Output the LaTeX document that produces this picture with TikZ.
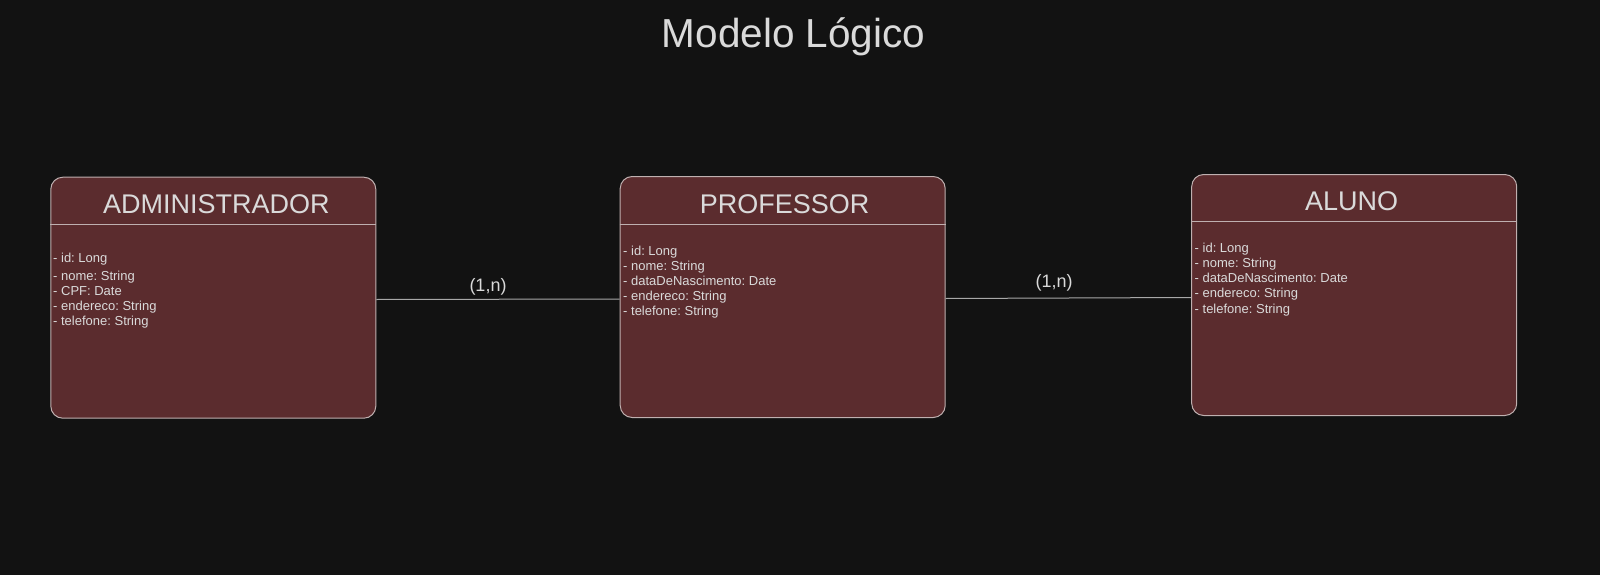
\documentclass[tikz,border=0pt]{standalone}
\usepackage{fontspec}
\setmainfont{Liberation Sans}
\frenchspacing
\definecolor{bg}{HTML}{121212}
\definecolor{boxfill}{HTML}{5B2C2E}
\definecolor{boxline}{HTML}{BFB0B0}
\definecolor{txt}{HTML}{DADADA}
\definecolor{conn}{HTML}{A8A8A8}
\begin{document}
\begin{tikzpicture}[x=1pt,y=-1pt,
  entity/.style={draw=boxline, line width=1pt, fill=boxfill, rounded corners=12pt, minimum width=325pt, minimum height=241pt, inner sep=0pt},
  enttitle/.style={text=txt, font=\fontsize{27}{31}\selectfont, anchor=base, inner sep=0pt},
  attr/.style={text=txt, font=\fontsize{13}{15}\selectfont, anchor=base west, inner sep=0pt},
  card/.style={text=txt, font=\fontsize{18}{21}\selectfont, anchor=base, inner sep=0pt},
  connline/.style={draw=conn, line width=1pt},
  hdr/.style={draw=boxline, line width=1pt}]
\fill[bg] (0,0) rectangle (1600,575);
\useasboundingbox (0,0) rectangle (1600,575);

\node[text=txt, font=\fontsize{40.5}{46}\selectfont, anchor=base, inner sep=0pt] (title) at (793.5,47.7) {Modelo Lógico};

% ADMINISTRADOR
\node[entity] (adm) at (213.3,297.7) {};
\draw[hdr] ([yshift=-47.3pt]adm.north west) -- ([yshift=-47.3pt]adm.north east);
\node[enttitle] (admt) at (216.3,213.3) {ADMINISTRADOR};
\node[attr] (adm1) at (53,262.7) {- id: Long};
\node[attr] (adm2) at (53,280) {- nome: String};
\node[attr] (adm3) at (53,295.2) {- CPF: Date};
\node[attr] (adm4) at (53,310.5) {- endereco: String};
\node[attr] (adm5) at (53,325.7) {- telefone: String};

% PROFESSOR
\node[entity] (prof) at (782.7,297) {};
\draw[hdr] ([yshift=-48pt]prof.north west) -- ([yshift=-48pt]prof.north east);
\node[enttitle] (proft) at (784.7,213) {PROFESSOR};
\node[attr] (prof1) at (623,255) {- id: Long};
\node[attr] (prof2) at (623,270.2) {- nome: String};
\node[attr] (prof3) at (623,285.4) {- dataDeNascimento: Date};
\node[attr] (prof4) at (623,300.6) {- endereco: String};
\node[attr] (prof5) at (623,315.8) {- telefone: String};

% ALUNO
\node[entity] (alu) at (1354.2,295) {};
\draw[hdr] ([yshift=-47.7pt]alu.north west) -- ([yshift=-47.7pt]alu.north east);
\node[enttitle] (alut) at (1351.7,210.5) {ALUNO};
\node[attr] (alu1) at (1194.5,252.3) {- id: Long};
\node[attr] (alu2) at (1194.5,267.5) {- nome: String};
\node[attr] (alu3) at (1194.5,282.7) {- dataDeNascimento: Date};
\node[attr] (alu4) at (1194.5,297.9) {- endereco: String};
\node[attr] (alu5) at (1194.5,313.1) {- telefone: String};

% connectors
\coordinate (c1a) at (adm.east |- 0,299.5);
\coordinate (c1b) at (prof.west |- 0,299);
\draw[connline] (c1a) -- (c1b);
\node[card] (card1) at (488,291) {(1,n)};
\coordinate (c2a) at (prof.east |- 0,298.5);
\coordinate (c2b) at (alu.west |- 0,297.5);
\draw[connline] (c2a) -- (c2b);
\node[card] (card2) at (1054,287.5) {(1,n)};
\end{tikzpicture}
\end{document}
